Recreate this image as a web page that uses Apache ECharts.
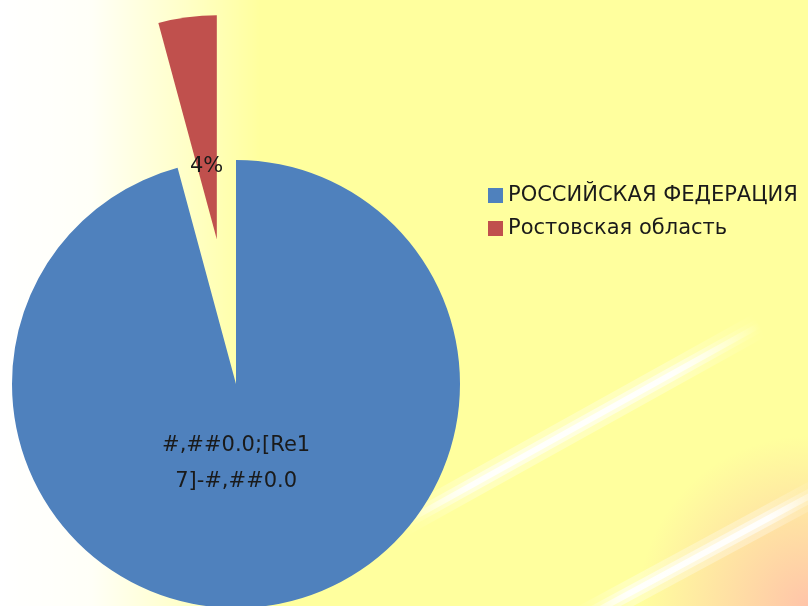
<!DOCTYPE html>
<html>
<head>
<meta charset="utf-8">
<script src="https://cdn.jsdelivr.net/npm/echarts@6/dist/echarts.min.js"></script>
<style>
  html, body { margin: 0; padding: 0; }
  #chart { width: 808px; height: 606px; }
</style>
</head>
<body>
<div id="chart"></div>
<script>
// данные диаграммы
var categories = ["РОССИЙСКАЯ ФЕДЕРАЦИЯ", "Ростовская область"];
var values = [95.8, 4.2];
var sliceLabels = ["#,##0.0;[Re1\n7]-#,##0.0", null];
var colors = ["#4F81BD", "#C0504D"];
var exploded = [false, true];

var getEle = function(ele){
  return document.querySelector(ele);
}

// мягкий луч: широкое свечение + ядро
function ray(x1, y1, x2, y2, w, a){
  return {
    type: "line", z: -9, silent: true,
    shape: { x1: x1, y1: y1, x2: x2, y2: y2 },
    style: {
      stroke: new echarts.graphic.LinearGradient(x1, y1, x2, y2, [
        { offset: 0, color: "rgba(255,255,255,0)" },
        { offset: 0.2, color: "rgba(255,255,255," + a + ")" },
        { offset: 0.75, color: "rgba(255,255,255," + a + ")" },
        { offset: 1, color: "rgba(255,255,255,0)" }
      ], true),
      lineWidth: w,
      lineCap: "round"
    }
  };
}

window.onload = function(){
  var myChart = echarts.init(getEle("#chart"));

  var pieData = [];
  for(var i = 0; i < categories.length; i++){
    pieData.push({
      name: categories[i],
      value: values[i],
      selected: exploded[i],
      itemStyle: { color: colors[i] }
    });
  }

  var option = {
    animation: false,
    backgroundColor: "#FFFF9E",
    graphic: [
      // белое свечение слева
      {
        type: "rect", z: -10, silent: true,
        shape: { x: 0, y: 0, width: 260, height: 606 },
        style: {
          fill: new echarts.graphic.LinearGradient(0, 0, 1, 0, [
            { offset: 0, color: "rgba(255,255,255,1)" },
            { offset: 0.35, color: "rgba(255,255,255,0.92)" },
            { offset: 0.7, color: "rgba(255,255,255,0.45)" },
            { offset: 1, color: "rgba(255,255,255,0)" }
          ])
        }
      },
      // персиковый угол справа внизу
      {
        type: "circle", z: -10, silent: true,
        shape: { cx: 808, cy: 606, r: 170 },
        style: {
          fill: new echarts.graphic.RadialGradient(0.5, 0.5, 0.5, [
            { offset: 0, color: "rgba(255,190,170,0.9)" },
            { offset: 1, color: "rgba(255,190,170,0)" }
          ])
        }
      },
      ray(400, 525, 760, 325, 26, 0.3),
      ray(400, 525, 760, 325, 14, 0.5),
      ray(400, 525, 760, 325, 6, 0.9),
      ray(580, 620, 830, 485, 26, 0.3),
      ray(580, 620, 830, 485, 14, 0.5),
      ray(580, 620, 830, 485, 6, 0.9)
    ],
    legend: {
      orient: "vertical",
      left: 483,
      top: 180,
      itemWidth: 15,
      itemHeight: 15,
      itemGap: 12,
      icon: "rect",
      data: categories,
      textStyle: {
        fontFamily: "DejaVu Sans",
        fontSize: 21,
        color: "#1a1a1a",
        padding: [0, 0, 0, 0]
      }
    },
    series: [{
      type: "pie",
      center: [236, 384],
      radius: 224,
      startAngle: 90,
      clockwise: true,
      selectedMode: "single",
      selectedOffset: 146,
      avoidLabelOverlap: false,
      label: {
        show: true,
        position: "inside",
        fontFamily: "DejaVu Sans",
        fontSize: 21,
        lineHeight: 36,
        color: "#1a1a1a",
        formatter: function(p){
          if(sliceLabels[p.dataIndex]) return sliceLabels[p.dataIndex];
          return Math.round(p.percent) + "%";
        }
      },
      labelLayout: function(p){
        if(p.dataIndex === 0) return { dx: -15, dy: -34 };
        return { dx: 5, dy: 41 };
      },
      emphasis: { disabled: true },
      data: pieData
    }]
  };

  myChart.setOption(option);

  window.addEventListener("resize", function(){
    myChart.resize();
  }, false);
}
</script>
</body>
</html>
